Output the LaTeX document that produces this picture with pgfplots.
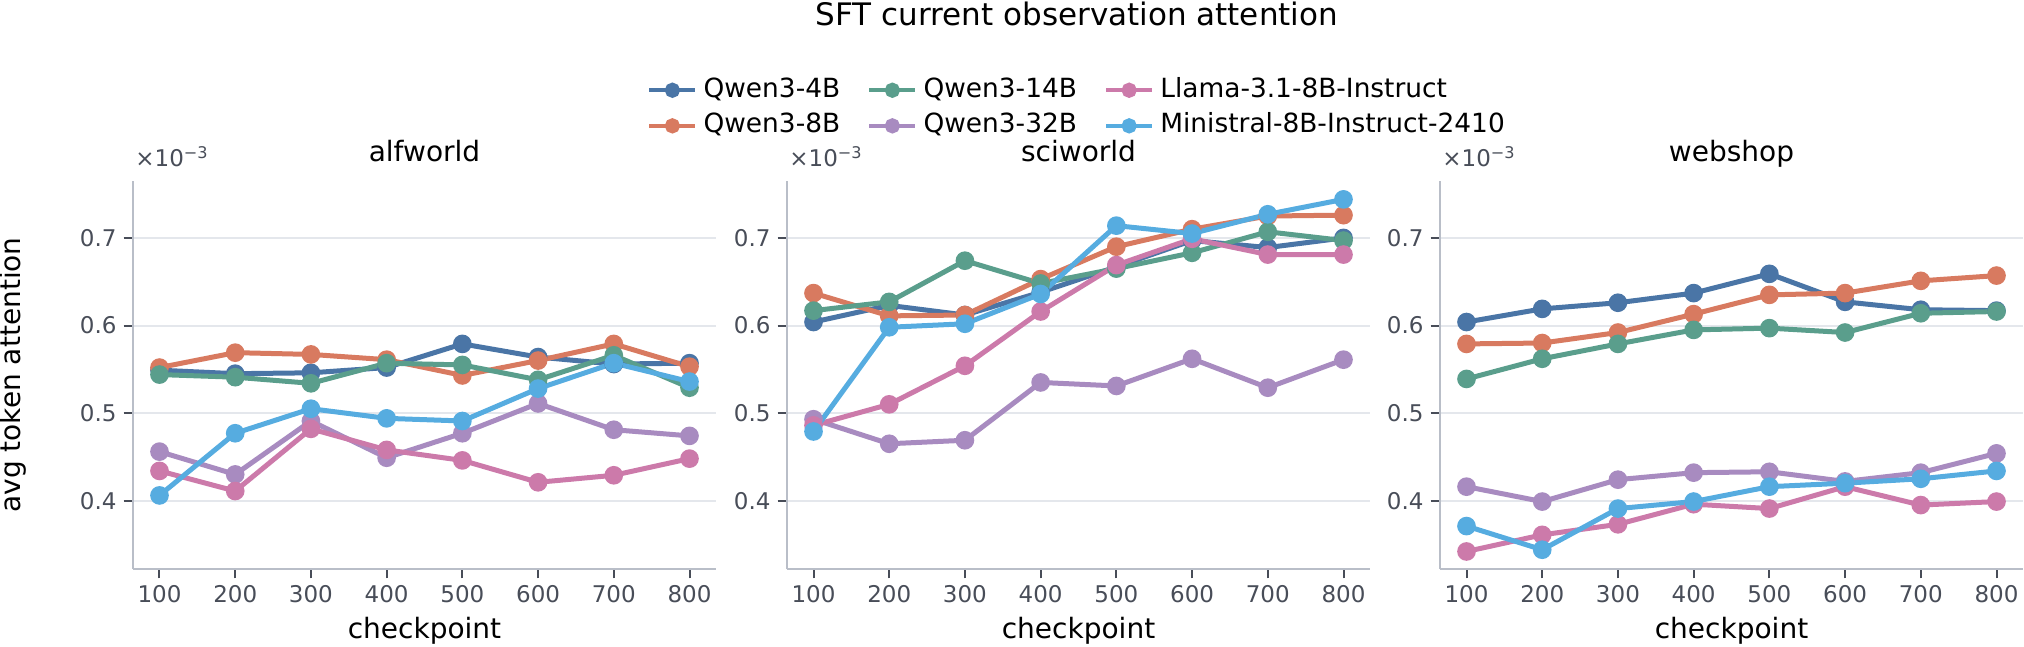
\documentclass[border=0pt]{standalone}
\usepackage{pgfplots}
\pgfplotsset{compat=1.18}
\usepackage{pgfplotstable}
\usepackage{fontspec}
\setmainfont{DejaVu Sans}

\definecolor{cQa}{RGB}{74,117,166}
\definecolor{cQb}{RGB}{216,122,96}
\definecolor{cQc}{RGB}{90,158,140}
\definecolor{cQd}{RGB}{168,139,192}
\definecolor{cLl}{RGB}{204,122,170}
\definecolor{cMi}{RGB}{86,172,224}
\definecolor{spine}{RGB}{185,190,200}
\definecolor{tickc}{RGB}{72,77,88}
\definecolor{gridc}{RGB}{228,231,236}

\pgfplotstableread{
x q4 q8 q14 q32 llama mini
100 0.549 0.552 0.544 0.456 0.434 0.406
200 0.545 0.569 0.541 0.430 0.411 0.477
300 0.546 0.567 0.534 0.491 0.482 0.505
400 0.552 0.561 0.557 0.449 0.458 0.494
500 0.579 0.543 0.555 0.477 0.446 0.491
600 0.564 0.560 0.538 0.511 0.421 0.528
700 0.556 0.579 0.566 0.481 0.429 0.557
800 0.557 0.553 0.529 0.474 0.448 0.536
}\alfdata

\pgfplotstableread{
x q4 q8 q14 q32 llama mini
100 0.604 0.637 0.617 0.493 0.486 0.479
200 0.623 0.611 0.627 0.465 0.510 0.598
300 0.612 0.612 0.674 0.469 0.554 0.602
400 0.638 0.653 0.648 0.535 0.616 0.636
500 0.667 0.690 0.665 0.531 0.669 0.714
600 0.697 0.710 0.683 0.562 0.699 0.705
700 0.689 0.725 0.707 0.529 0.681 0.727
800 0.700 0.726 0.697 0.561 0.681 0.744
}\scidata

\pgfplotstableread{
x q4 q8 q14 q32 llama mini
100 0.604 0.579 0.539 0.416 0.342 0.371
200 0.619 0.580 0.562 0.399 0.361 0.344
300 0.626 0.592 0.579 0.424 0.373 0.391
400 0.637 0.613 0.595 0.432 0.396 0.399
500 0.659 0.635 0.597 0.433 0.391 0.416
600 0.627 0.637 0.592 0.422 0.416 0.420
700 0.618 0.651 0.614 0.432 0.395 0.425
800 0.617 0.657 0.616 0.454 0.399 0.434
}\webdata

\pgfplotsset{
  panel/.style={
    scale only axis, width=291.5pt, height=194pt,
    xmin=65, xmax=835, ymin=0.322, ymax=0.765,
    xtick={100,200,300,400,500,600,700,800},
    xticklabels={100,200,300,400,500,600,700,800},
    ytick={0.4,0.5,0.6,0.7},
    yticklabels={0.4,0.5,0.6,0.7},
    axis x line*=bottom, axis y line*=left,
    axis line style={draw=spine, line width=1.3pt, -},
    tick align=outside, major tick length=4.7pt,
    tick style={draw=tickc, line width=1pt},
    ymajorgrids, grid style={draw=gridc, line width=1pt},
    ticklabel style={font=\fontsize{11.5}{13}\selectfont, text=tickc},
    xlabel={checkpoint},
    xlabel style={font=\fontsize{14}{16}\selectfont, at={(axis description cs:0.5,-0.180)}, anchor=base},
    title style={font=\fontsize{14}{16}\selectfont, at={(axis description cs:0.5,1)}, anchor=base, yshift=3.5pt},
    clip=false,
    every axis plot/.append style={line width=2.5pt, mark=*, mark size=3.4pt, mark options={solid}},
  },
}

\newcommand{\offsettext}{%
  \node[anchor=base west, inner sep=0pt, font=\fontsize{11.5}{13}\selectfont, text=tickc]
    at (rel axis cs:0,1) [xshift=1pt, yshift=7pt] {×10\textsuperscript{−3}};}

\newcommand{\sixplots}[1]{%
  \addplot[cQa, forget plot] table[x=x, y=q4] {#1};
  \addplot[cQb, forget plot] table[x=x, y=q8] {#1};
  \addplot[cQc, forget plot] table[x=x, y=q14] {#1};
  \addplot[cQd, forget plot] table[x=x, y=q32] {#1};
  \addplot[cLl, forget plot] table[x=x, y=llama] {#1};
  \addplot[cMi, forget plot] table[x=x, y=mini] {#1};
}

\begin{document}
\begin{tikzpicture}
\path[use as bounding box] (0pt,0pt) rectangle (1012pt,-323.5pt);

\node[anchor=base, font=\fontsize{15.5}{18}\selectfont] at (538.5pt,-13pt) {SFT current observation attention};

\begin{axis}[panel, at={(66.5pt,-284.5pt)}, anchor=south west,
  title={alfworld},
  ylabel={avg token attention},
  ylabel style={font=\fontsize{14}{16}\selectfont, at={(axis description cs:-0.2067,0.5)}, anchor=center, rotate=0},
  legend columns=3,
  legend cell align=left,
  legend image code/.code={\draw[mark repeat=2,mark phase=2] plot coordinates {(0pt,0pt)(11.5pt,0pt)(23pt,0pt)};},
  legend style={at={(axis description cs:1.6175,1.188)}, anchor=center, draw=none, fill=none,
    font=\fontsize{13.2}{15}\selectfont, inner sep=0pt,
    nodes={inner sep=0pt, text height=9.6pt, text depth=2.7pt},
    /tikz/row sep=5.5pt,
    /tikz/every odd column/.append style={column sep=3pt},
    /tikz/every even column/.append style={column sep=13.5pt}},
]
\addlegendimage{cQa, line width=2.2pt, mark=*, mark size=2.7pt}
\addlegendentry{Qwen3-4B}
\addlegendimage{cQc, line width=2.2pt, mark=*, mark size=2.7pt}
\addlegendentry{Qwen3-14B}
\addlegendimage{cLl, line width=2.2pt, mark=*, mark size=2.7pt}
\addlegendentry{Llama-3.1-8B-Instruct}
\addlegendimage{cQb, line width=2.2pt, mark=*, mark size=2.7pt}
\addlegendentry{Qwen3-8B}
\addlegendimage{cQd, line width=2.2pt, mark=*, mark size=2.7pt}
\addlegendentry{Qwen3-32B}
\addlegendimage{cMi, line width=2.2pt, mark=*, mark size=2.7pt}
\addlegendentry{Ministral-8B-Instruct-2410}
\sixplots{\alfdata}
\offsettext
\end{axis}

\begin{axis}[panel, at={(393.5pt,-284.5pt)}, anchor=south west, title={sciworld}]
\sixplots{\scidata}
\offsettext
\end{axis}

\begin{axis}[panel, at={(720pt,-284.5pt)}, anchor=south west, title={webshop}]
\sixplots{\webdata}
\offsettext
\end{axis}
\end{tikzpicture}
\end{document}
